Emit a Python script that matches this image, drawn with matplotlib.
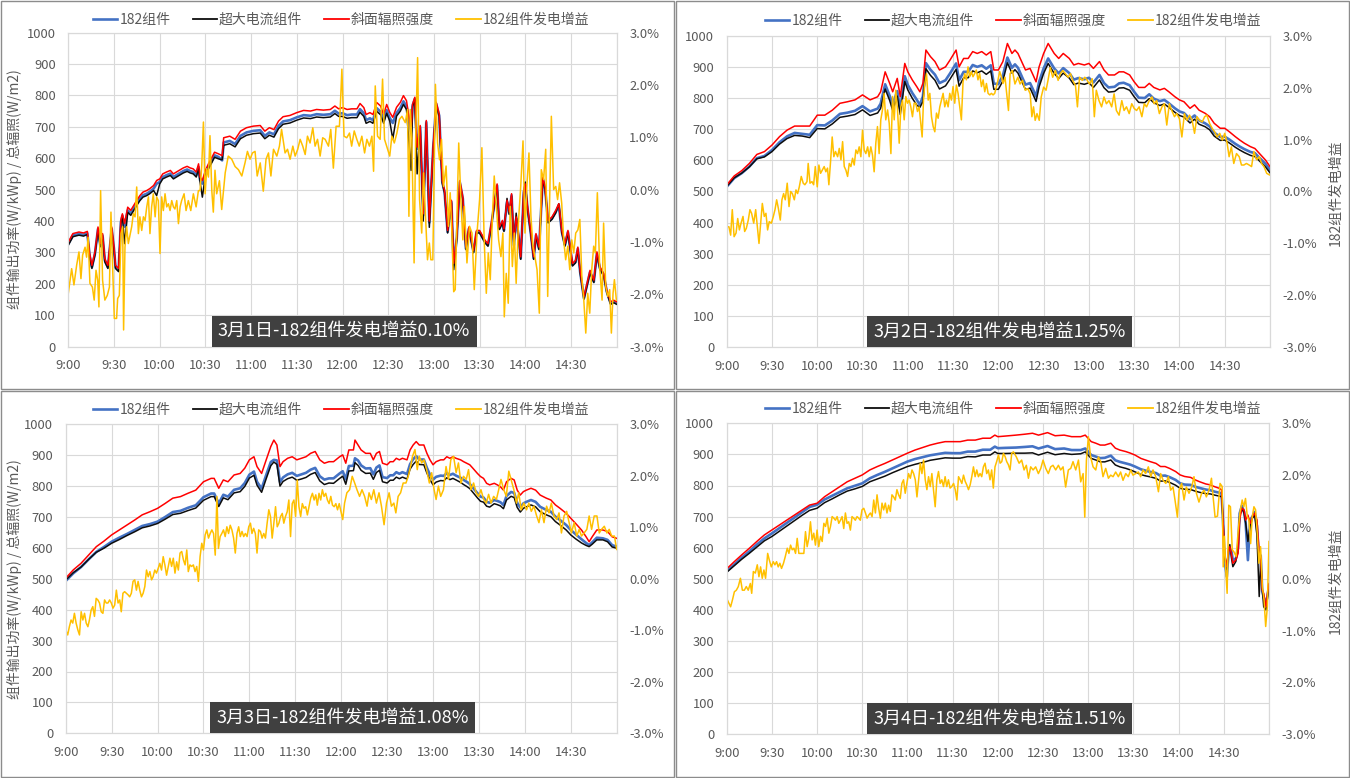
import matplotlib
matplotlib.use('Agg')
import matplotlib.pyplot as plt
from matplotlib.patches import Rectangle
from matplotlib.lines import Line2D

plt.rcParams['font.family'] = ['Noto Sans CJK SC', 'DejaVu Sans']

# ---- data: minutes after 9:00 ----
tick_labels = ['9:00', '9:30', '10:00', '10:30', '11:00', '11:30', '12:00',
               '12:30', '13:00', '13:30', '14:00', '14:30', '']
titles = ['3月1日-182组件发电增益0.10%', '3月2日-182组件发电增益1.25%',
          '3月3日-182组件发电增益1.08%', '3月4日-182组件发电增益1.51%']
series_names = ['182组件', '超大电流组件', '斜面辐照强度', '182组件发电增益']

# 3月1日
minutes_1 = [0,3,7,10,12.5,14,15.5,17.5,19.5,21,22.5,24,26,28.5,30,31,33,34.5,35.5,37,39,41,43,45,47,49,51.5,53.5,56,58,
             60,62,64.5,67,69,71,73.5,75.5,78,80,82,84,85.5,86.5,88,90,92,94,96,98.5,101,102,106,109.5,113,117,121.5,126,129,132,
             135,138,141,145.5,150,154.5,159,163,167.5,172,175,177.5,180,183,186,189.5,191.5,194,195.5,198,200,202.5,205,207,209,211,213,215.5,218,220,
             222,225,226,227.5,229,231,233,235,237,239.5,241.5,243.5,245.5,247,249,251.5,253,255,257,259,261,263,266,268,270,273.5,275.5,278,280,281.5,
             283,285,286,288,289.5,291,292.5,294,295.5,297,299,300,301.5,303.5,305.5,307,309,311.5,313,315,317.5,320,322,324,326,328,329.5,331,333,334.5,
             336,338.5,340.5,342.5,345,347,349,351.5,353.5,356,358,360]
irradiance_1 = [333,360,365,362,367,296,259,302,381,328,360,280,259,381,317,259,249,402,423,392,444,434,450,466,481,492,497,503,513,529,
                534,550,556,561,550,556,563,569,574,569,566,556,582,540,529,561,582,600,619,614,608,665,670,660,686,697,702,704,686,697,
                691,718,732,736,745,752,750,755,753,755,766,757,761,755,757,757,774,761,739,745,739,777,766,739,771,746,730,762,778,799,
                783,688,772,794,635,704,423,720,400,635,778,740,529,497,370,466,265,349,529,476,317,381,307,370,370,339,328,402,471,518,
                381,402,375,466,429,487,328,413,360,286,497,518,444,370,286,360,317,540,508,402,413,434,455,370,328,370,317,265,275,317,
                243,159,201,243,212,302,254,233,180,143,148,143]
module182_1 = [327,354,359,356,361,290,253,296,375,322,354,274,253,375,311,253,243,396,417,382,434,424,440,456,471,482,487,493,503,519,
               524,540,546,551,540,546,553,559,564,559,556,546,572,530,519,551,572,590,609,604,593,650,655,645,671,682,687,689,671,682,
               676,703,717,721,730,737,735,740,738,740,751,742,743,737,739,739,756,743,721,727,721,759,748,721,753,728,712,744,760,781,
               765,683,767,789,630,699,418,715,395,630,773,735,524,492,365,461,260,344,524,471,312,376,302,365,365,334,323,397,466,513,
               376,397,370,461,424,482,323,408,355,281,492,513,439,365,281,355,312,535,503,397,408,429,450,365,323,365,312,260,270,312,
               238,154,196,238,207,297,249,228,175,138,143,138]
highcurrent_1 = [323,350,355,352,357,286,249,292,371,318,350,270,249,371,307,249,239,392,413,328,428,418,434,450,465,476,481,487,497,481,
                 518,534,540,545,534,540,547,553,558,553,550,540,566,524,476,545,566,584,603,598,595,641,646,636,662,673,678,680,662,673,
                 667,694,708,712,721,728,726,731,729,731,742,733,733,727,729,729,746,733,711,717,711,749,738,711,743,718,661,734,750,771,
                 755,561,764,786,550,696,400,712,380,627,770,732,521,489,362,458,245,341,521,468,309,373,299,362,362,331,320,394,463,510,
                 373,394,367,472,421,479,320,425,352,278,492,524,436,362,278,352,309,532,500,394,405,426,455,362,320,362,309,257,267,309,
                 235,151,193,235,204,294,246,225,172,135,140,135]
gain_1 = [(0,-1.98),(2.2,-1.51),(3.7,-1.82),(5.5,-1.44),(7,-1.19),(8.3,-1.70),(9.4,-1.25),(11,-1.10),(12,-1.29),(13,-0.91),
          (14.2,-1.79),(15.8,-1.86),(17,-2.11),(18.2,-1.54),(19.3,-1.73),(20.1,-2.24),(21.2,-0.02),(22.5,-1.73),(24,-2.11),(25.6,-2.02),
          (27,-1.86),(28,-0.43),(29.1,-1.48),(30.2,-2.46),(31.7,-2.46),(32.4,-2.08),(33.5,-2.02),(34.6,-0.84),(35.7,-0.71),(36.3,-2.68),
          (37.2,-1.10),(38.3,-0.71),(39.4,-1.03),(40.5,-0.87),(41.6,-0.71),(42.7,-0.46),(43.8,-0.52),(44.9,0.05),(46,-0.84),(47,-0.52),
          (48.2,-0.78),(49.3,-0.52),(50.4,-0.59),(51.5,-0.33),(52.6,-0.14),(53.6,-0.84),(54.7,-0.33),(55.8,-0.08),(57,-0.52),(58,-0.14),
          (59.1,-0.21),(60.2,-1.22),(61.3,-0.14),(62.4,-0.40),(63.5,-0.08),(64.6,-0.33),(65.7,-0.27),(66.8,-0.40),(67.9,-0.21),(69,-0.33),
          (70,-0.37),(71.2,-0.21),(72.3,-0.65),(73.4,-0.33),(74.4,-0.21),(76,-0.08),(77.3,-0.40),(78.8,-0.21),(80.4,-0.40),(82.1,-0.08),
          (83.9,-0.33),(85.4,-0.02),(86.5,-0.02),(87.6,0.46),(88.7,1.29),(89.8,-0.08),(90.9,0.40),(92,0.24),(93,1.03),(94.2,-0.02),
          (95.2,-0.43),(96.3,0.37),(97.4,-0.08),(99.2,0.17),(100.7,-0.38),(103,0.32),(105,0.64),(107.3,0.58),(109.5,0.44),(111.7,0.38),
          (113.9,0.26),(116,0.51),(117.6,0.73),(119.3,0.58),(120.9,0.70),(122.6,0.73),(124,0.26),(126,0.51),(128,-0.03),(129.8,0.58),
          (131.4,0.70),(133,0.26),(134.7,0.77),(136.9,0.64),(138.6,0.83),(140,1.15),(142.3,0.70),(143.9,0.77),(145.6,0.58),(147.4,0.83),
          (148.9,0.64),(150.6,0.77),(152.2,0.96),(153.9,0.83),(155.5,0.67),(157,1.02),(158.7,0.89),(160.5,1.18),(162,0.83),(163.6,0.96),
          (165.3,0.64),(167,0.99),(168.6,0.96),(170.8,0.83),(172.3,1.15),(174,0.41),(175.8,1.21),(178,1.21),(179.6,2.30),(181,1.02),
          (182.8,0.99),(184.6,1.08),(186,0.83),(187.7,1.12),(189.4,0.96),(191,0.83),(192.7,1.02),(194.5,0.70),(196,0.96),(197.7,0.83),
          (199.3,1.02),(200.4,0.35),(201.5,1.98),(203,1.02),(204.7,0.96),(206.3,2.11),(207.6,0.96),(209,0.83),(211,0.64),(212.4,1.02),
          (214,0.89),(215.7,1.08),(217.4,1.34),(219,1.40),(221.2,1.28),(222.7,1.53),(223.6,-0.51),(224.5,1.53),(225.5,0.96),(227,-1.40),
          (228,0.96),(229.3,2.52),(230.6,-0.19),(232,-0.83),(233.2,0.32),(234.3,-0.38),(235.8,-1.34),(237,-1.02),(238,-1.34),(239.3,-1.34),
          (241,2.01),(242.4,0.89),(243.7,0.57),(245,0.96),(246.3,0.06),(248,0.45),(249.6,-0.70),(250.7,-0.06),(251.8,-0.83),(253,-1.95),
          (254,-1.91),(255,-0.70),(256.3,0.89),(257.7,-0.19),(259,-0.96),(260,-0.32),(261.7,-1.40),(263.4,-0.70),(265,-0.83),(266.5,-1.91),
          (268.3,-0.83),(270,-0.19),(271.5,0.80),(273,-0.96),(274.4,-1.98),(275.7,-1.21),(277,-1.72),(278.5,-0.45),(279.6,0.26),(281,-0.32),
          (282.5,-0.96),(284,-1.28),(285.3,-0.83),(286.2,-2.43),(287.5,-1.60),(288.8,-2.17),(290.1,-0.32),(291.5,-1.47),(292.8,-0.83),(294,-1.79),
          (295.6,-0.57),(297,0.06),(298.5,0.93),(299.8,-0.83),(301,0.06),(302.4,0.70),(303.7,-0.51),(305,-1.08),(306.3,-1.28),(307.7,-1.53),
          (309.2,-2.36),(310.5,0.38),(312,0.19),(313.4,0.77),(314.7,-2.04),(316,-0.13),(317.1,1.40),(318.6,0.0),(320,0.06),(321.2,-0.19),
          (322.5,0.13),(323.9,-0.26),(325.2,-0.96),(326.5,-1.34),(327.9,-1.08),(329.2,-1.53),(330.5,-0.96),(331.8,-1.21),(333.1,-0.83),(334.5,-0.77),
          (335.8,-0.57),(337.1,-1.66),(338.4,-2.11),(339.7,-2.74),(341,-1.98),(342.3,-2.36),(343.6,-1.53),(344.9,-1.08),(346,-1.21),(347.3,-0.06),
          (348.8,-1.47),(350.4,-2.11),(351.4,-0.64),(352.8,-1.85),(354.1,-2.04),(355.4,-1.91),(356.5,-2.74),(357.6,-1.98),(358.5,-1.72),(359.8,-2.11)]

# 3月2日
minutes_2 = [0,5,10,15,20,25,30,35,40,45,50,55,60,65,70,75,80,85,90,95,100,102,105,108,110,113,115,118,120,123,
             126,128,130,132,135,138,141,145,148,152,154,157,160,163,166,169,172,175,177,180,183,186,189,191,193,196,198,201,203,205,
             207,210,213,217,220,223,227,230,233,237,240,243,247,250,253,257,260,263,267,270,273,277,280,283,287,290,293,297,300,303,
             307,310,313,317,320,323,327,330,333,337,340,343,347,350,353,357,360]
irradiance_2 = [521,550,567,590,619,628,649,676,697,710,710,710,745,745,761,783,788,794,810,794,804,820,884,847,820,863,804,911,884,858,
                836,820,847,954,933,917,890,900,922,954,900,927,927,949,943,949,938,949,890,890,917,975,943,954,943,911,890,895,874,852,
                900,943,975,943,927,943,927,906,911,906,911,895,917,890,874,874,884,884,874,852,834,834,847,834,826,831,820,804,794,788,
                767,778,761,751,740,719,703,703,692,676,665,655,644,638,622,601,580]
module182_2 = [515,543,559,580,607,614,633,658,677,688,685,682,713,712,728,749,753,759,774,757,766,782,844,807,780,822,763,870,842,816,
               794,778,805,912,891,875,848,857,879,911,857,884,884,906,900,905,894,905,846,845,872,930,897,908,897,864,843,848,827,805,
               852,895,927,895,879,896,880,859,864,860,865,850,874,848,834,836,847,849,841,820,801,800,812,798,790,794,783,767,757,752,
               732,744,728,719,709,689,675,676,667,653,644,636,627,623,608,589,569]
highcurrent_2 = [516,544,559,579,605,611,628,652,670,680,678,673,702,701,717,738,742,747,762,744,752,767,829,792,760,806,747,853,826,799,
                 777,770,788,894,873,857,829,839,861,892,838,865,865,887,881,887,876,887,828,828,855,913,880,891,880,848,827,832,811,789,
                 836,879,911,879,863,880,864,843,848,844,849,834,858,833,819,821,832,833,825,804,786,785,798,785,776,781,770,754,744,739,
                 720,732,716,708,698,678,664,665,656,642,633,625,616,612,598,579,560]
gain_2 = [(0,-0.68),(1.5,-0.68),(2.6,-0.84),(3.7,-0.35),(4.9,-0.87),(6.2,-0.80),(7.3,-0.52),(8.4,-0.74),(9.5,-0.61),(10.8,-0.48),
          (11.9,-0.77),(13,-0.71),(14.3,-0.55),(15.4,-0.35),(16.5,-0.42),(17.9,-0.61),(19.2,-0.35),(20.3,-0.68),(21.4,-1.00),(22.5,-0.61),
          (23.6,-0.23),(24.9,-0.48),(26,-0.42),(27.1,-0.74),(28.2,-0.58),(29.6,-0.61),(30.9,-0.48),(32,-0.35),(33.1,-0.16),(34.2,-0.32),
          (35.5,-0.55),(36.6,-0.16),(37.7,-0.04),(38.8,-0.16),(40.1,0.16),(41.3,-0.29),(42.4,0.0),(43.5,-0.04),(44.8,-0.16),(45.9,0.03),
          (47,-0.04),(48.1,0.09),(49.4,0.29),(50.7,0.16),(51.8,0.13),(53.2,0.19),(54,0.54),(55.2,0.16),(56.5,0.19),(57.6,0.13),
          (58.7,0.48),(60,0.09),(61.1,0.51),(62.2,0.35),(63.3,0.41),(64.6,0.48),(65.7,0.38),(66.8,0.45),(67.7,0.13),(68.8,0.57),
          (69.9,1.05),(71,0.67),(72.1,0.77),(73.5,0.67),(74.6,0.83),(75.7,0.61),(76.8,0.96),(77.9,0.48),(79,0.41),(80.1,0.29),
          (81.2,0.54),(82.3,0.48),(83.4,0.64),(84.5,0.51),(85.6,0.80),(86.7,0.73),(87.8,0.86),(88.9,0.67),(90,1.18),(91.1,0.80),
          (92.2,0.73),(93.4,0.86),(94.4,0.67),(95.5,0.86),(96.6,0.70),(97.7,0.38),(98.8,0.93),(99.9,1.25),(101,0.73),(102.1,1.38),
          (103.2,1.57),(104.3,1.89),(105.4,1.38),(106.6,1.57),(107.7,1.31),(108.8,0.73),(109.9,1.83),(111,1.38),(112,1.95),(113.2,1.57),
          (114.3,0.93),(115.4,1.63),(116.5,1.76),(117.6,1.38),(118.7,1.83),(119.8,1.70),(120.9,1.76),(122,1.63),(123.1,1.44),(124.2,1.70),
          (125.3,1.70),(126.4,1.54),(127.5,1.63),(128.6,1.31),(129.5,1.05),(130.4,1.76),(131.3,2.08),(132.4,2.27),(133.5,1.76),(134.6,1.89),
          (135.7,1.44),(136.8,1.25),(137.9,1.15),(139,1.51),(140.1,1.41),(141.2,1.63),(142.3,1.76),(143.4,1.89),(144.5,1.63),(145.6,1.76),
          (146.7,1.63),(147.8,1.89),(148.9,1.76),(150,2.02),(151.1,1.70),(152.2,2.05),(153.3,1.89),(154.4,1.63),(155.5,1.38),(156.6,2.11),
          (157.7,2.27),(158.8,2.15),(159.9,2.40),(161,2.21),(162.1,2.31),(163.2,2.21),(164.3,2.27),(165.4,2.34),(166.5,2.15),(167.6,2.27),
          (168.8,2.02),(169.9,2.15),(171,1.92),(172.1,2.08),(173.2,1.89),(174.3,1.86),(175.4,1.89),(176.5,1.86),(177.6,1.89),(178.7,2.02),
          (179.8,2.15),(180.9,2.31),(182,2.21),(183.1,2.08),(184.4,2.20),(186.7,1.56),(187.8,2.27),(189.3,2.33),(191,2.07),(192.9,2.20),
          (194.4,2.07),(196,2.14),(197.8,1.95),(199.6,1.98),(201.1,1.88),(202.2,1.44),(203.3,1.63),(204.4,1.37),(205.6,1.50),(207.1,1.37),
          (208.4,1.82),(210,2.01),(211.6,1.95),(212.9,2.14),(214.4,2.39),(216,2.20),(217.8,2.33),(219.6,2.14),(221.1,2.27),(222.7,2.33),
          (224.4,2.27),(226.2,2.20),(227.8,2.27),(229.3,2.14),(231.1,2.04),(232.4,1.63),(233.8,2.20),(235.6,2.14),(237.3,2.20),(238.9,2.14),
          (240.4,2.07),(242.2,2.17),(243.6,1.44),(244.9,1.95),(246.7,1.75),(248.4,1.63),(250,1.82),(251.6,1.69),(253.3,1.75),(255.1,1.63),
          (256.7,1.88),(258.2,1.56),(260,1.47),(261.8,1.75),(263.3,1.56),(264.9,1.63),(266.7,1.50),(268.4,1.69),(270,1.60),(271.6,1.56),
          (273.3,1.63),(275.1,1.44),(276.7,1.69),(278.2,1.63),(280,1.75),(281.8,1.82),(283.3,1.69),(284.9,1.75),(286.7,1.50),(288.4,1.63),
          (290,1.69),(291.6,1.28),(293.3,1.69),(294.9,1.56),(296.7,1.44),(298.2,1.50),(300,1.40),(301.6,1.05),(303.3,1.50),(304.9,1.37),
          (306.7,1.47),(308.4,1.37),(310,1.12),(311.6,1.44),(313.3,1.37),(315.1,1.34),(316.7,1.44),(318.2,1.47),(320,1.31),(321.8,1.21),
          (323.3,1.15),(324.9,1.05),(326.7,1.12),(328.4,0.99),(330,1.12),(331.6,0.93),(332.9,0.67),(334.4,0.86),(336,0.54),(337.8,0.73),
          (339.6,0.67),(341.1,0.51),(342.7,0.51),(344.4,0.54),(346.2,0.51),(347.8,0.48),(349.3,0.77),(351.1,0.61),(352.9,0.67),(354.4,0.54),
          (356,0.48),(357.8,0.35),(359.6,0.32)]

# 3月3日
minutes_3 = [0,5,10,15,20,25,30,35,40,45,50,55,60,65,70,75,80,85,90,95,97,100,103,106,110,114,117,120,123,125,
             128,131,134,136,138,140,142,145,148,151,154,157,160,163,166,169,172,175,179,181,183,185,188,189,191,193,196,199,201,203,
             205,207,210,212,214,216,218,220,223,225,227,229,231,234,236,238,240,242,245,247,249,251,253,255,258,260,262,264,266,269,
             271,273,275,277,280,282,284,286,288,291,293,295,297,299,301,304,307,310,314,317,320,323,327,330,333,337,340,342,344,347,
             351,354,357,360]
irradiance_3 = [502,529,550,577,604,622,642,658,674,690,707,717,728,744,761,766,777,787,814,825,825,793,820,814,836,841,858,885,895,863,
                841,885,928,949,933,863,879,890,895,885,890,895,906,912,885,874,879,879,895,901,874,917,917,949,933,917,906,906,885,906,
                912,874,869,879,879,890,885,890,885,917,933,944,933,933,906,885,869,879,885,885,895,890,895,890,885,879,874,869,858,841,
                831,825,809,804,809,804,798,787,814,825,820,787,771,782,787,793,787,771,761,755,739,728,712,696,680,658,636,620,636,658,
                658,653,636,631]
module182_3 = [493,518,538,563,587,603,620,633,645,658,671,677,685,700,716,720,730,738,764,776,776,744,772,766,788,793,810,837,847,814,
               792,836,878,885,883,813,828,838,843,833,838,843,853,859,832,821,825,825,841,848,822,865,866,890,883,867,857,858,838,860,
               867,829,826,835,835,845,840,845,839,871,887,897,886,886,859,837,821,830,834,833,842,836,840,834,827,820,814,807,795,777,
               766,763,749,746,755,752,748,739,768,781,778,746,731,744,749,755,749,733,723,717,701,690,674,658,645,628,616,609,618,633,
               631,626,609,604]
highcurrent_3 = [496,520,538,563,586,599,615,627,640,652,665,671,679,693,708,712,721,729,754,766,766,734,762,756,778,782,799,826,835,803,
                 780,824,866,878,870,800,815,824,829,819,823,828,838,844,817,805,810,809,825,832,806,849,850,876,867,851,841,842,822,844,
                 851,814,810,819,819,829,824,829,823,855,870,881,870,869,842,821,804,813,818,817,827,821,825,820,812,805,799,792,780,762,
                 751,748,735,732,743,740,736,727,755,767,763,731,716,728,733,739,733,717,707,701,685,674,658,642,630,616,608,604,612,626,
                 626,620,603,599]
gain_3 = [(0,-0.99),(1.3,-1.09),(2.4,-0.93),(3.5,-0.80),(4.6,-0.86),(5.7,-0.67),(6.8,-0.86),(7.9,-0.99),(9,-1.09),(10.1,-0.64),
          (11.2,-0.80),(12.3,-0.67),(13.4,-0.86),(14.5,-0.93),(15.5,-0.80),(16.6,-0.61),(17.7,-0.54),(18.8,-0.73),(19.9,-0.38),(21,-0.41),
          (22.1,-0.47),(23.2,-0.64),(24.3,-0.67),(25.4,-0.41),(26.5,-0.47),(27.6,-0.47),(28.7,-0.41),(29.8,-0.47),(30.9,-0.57),(32,-0.51),
          (33.1,-0.22),(34.2,-0.47),(35.3,-0.41),(36.3,-0.64),(37.4,-0.28),(38.5,-0.25),(39.6,-0.28),(40.7,-0.31),(41.8,-0.35),(42.9,-0.28),
          (44,-0.05),(45.1,-0.02),(46.2,-0.22),(47.3,-0.05),(48.4,-0.22),(49.5,-0.35),(50.6,-0.28),(51.7,-0.15),(52.8,0.17),(53.9,0.04),
          (55,0.14),(56.1,-0.02),(57.1,0.04),(58.2,0.17),(59.3,0.11),(60.4,0.20),(61.5,0.30),(62.6,0.17),(63.7,0.43),(64.8,0.27),
          (65.9,0.07),(67,0.24),(68.1,0.40),(69.2,0.24),(70.3,0.40),(71.4,0.11),(72.5,0.33),(73.6,0.17),(74.7,0.50),(75.8,0.53),
          (76.9,0.37),(78,0.27),(79.1,0.56),(80.1,0.14),(81.2,0.27),(82.3,0.24),(83.4,0.27),(84.5,0.14),(85.6,0.24),(86.7,-0.05),
          (87.8,0.43),(88.9,0.69),(90,0.56),(91.1,0.85),(92.2,0.95),(93.3,0.79),(94.4,0.88),(95.5,0.95),(96.6,0.88),(97.7,0.46),
          (98.8,1.60),(99.8,0.59),(100.9,0.82),(102,0.88),(103.1,0.95),(104.2,0.82),(105.3,1.01),(106.4,0.88),(107.5,1.04),(108.6,0.95),
          (109.7,0.79),(110.8,0.50),(111.9,0.88),(113,1.01),(114.1,0.82),(115.2,0.92),(116.3,0.82),(117.4,0.88),(118.5,0.82),(119.6,1.01),
          (120.7,1.08),(121.7,0.88),(122.8,0.98),(123.9,0.88),(125,0.50),(126.1,0.95),(127.2,0.92),(128.3,0.79),(129.4,0.88),(130.5,0.79),
          (131.6,1.08),(132.7,1.34),(133.8,1.21),(134.9,0.79),(136,1.08),(137.1,1.40),(138.2,1.01),(139.3,1.08),(140.4,1.21),(141.5,1.27),
          (142.5,1.08),(143.6,1.21),(144.7,1.30),(145.8,1.53),(146.9,0.82),(148,1.46),(149.1,1.53),(150.2,1.21),(151.3,1.92),(152.4,1.40),
          (153.5,1.21),(154.6,1.46),(155.7,1.37),(156.8,1.40),(157.9,1.24),(159,1.40),(160.1,1.57),(161.2,1.66),(162.3,1.53),(163.4,1.63),
          (164.4,1.43),(165.5,1.66),(166.6,1.53),(167.7,1.73),(168.8,1.60),(169.9,1.66),(171,1.53),(172.1,1.46),(173.2,1.60),(174.3,1.43),
          (175.4,1.40),(176.5,1.46),(177.6,1.34),(178.7,1.46),(181,1.15),(182.2,1.47),(183.7,1.67),(185.5,1.73),(187.2,1.99),(188.8,1.86),
          (190.3,1.73),(192,1.60),(193.6,1.73),(195.3,1.60),(196.9,1.41),(198.2,1.67),(199.7,1.54),(201.3,1.73),(203,1.47),(204.7,1.67),
          (206.3,1.41),(208,1.05),(209.6,1.47),(211.3,1.67),(212.8,1.41),(214.4,1.47),(215.7,1.28),(217.2,1.60),(218.8,1.67),(220.5,1.86),
          (222.3,1.86),(223.8,1.99),(225.3,2.18),(226.6,2.38),(228.2,2.51),(229.7,2.12),(231,2.38),(232.6,2.25),(234.1,2.31),(235.8,2.12),
          (237.6,1.86),(239.1,2.06),(240.7,1.73),(242,1.54),(243.5,1.80),(245,1.60),(246.8,1.73),(248.5,2.18),(250.1,1.93),(251.6,2.31),
          (253.4,2.38),(255.1,2.06),(256.6,2.25),(258.2,1.86),(259.9,1.99),(261.7,1.93),(263.2,2.12),(264.7,1.73),(266.5,1.86),(268.2,1.67),
          (269.8,1.60),(271.3,1.73),(273.1,1.54),(274.8,1.47),(276.3,1.64),(277.9,1.47),(279.6,1.60),(281.4,1.54),(282.9,1.73),(284.4,1.93),
          (286.2,1.73),(287.9,1.60),(289.5,2.09),(291,1.93),(292.8,1.73),(294.5,1.47),(296,1.67),(297.6,1.34),(299.3,1.47),(301.1,1.34),
          (302.6,1.47),(304.2,1.31),(305.9,1.41),(307.7,1.22),(309.2,1.09),(310.8,1.34),(312.5,1.09),(314.2,1.41),(315.8,1.28),(317.3,1.47),
          (319,1.22),(320.8,1.15),(322.3,1.28),(323.9,0.89),(325.6,1.22),(327.3,1.31),(328.9,1.09),(330.4,0.89),(332.2,1.09),(333.9,0.83),
          (335.5,0.96),(337,0.83),(338.7,0.89),(340.5,0.96),(342,1.22),(343.6,0.96),(345.3,1.22),(347.1,1.22),(348.6,0.89),(350.1,0.96),
          (351.9,1.02),(353.6,0.89),(355.1,0.96),(356.7,0.83),(358.5,0.83),(360,0.57)]

# 3月4日
minutes_4 = [0,5,10,15,20,25,30,35,40,45,50,55,60,65,70,75,80,85,90,95,100,105,110,115,120,125,130,135,140,145,
             150,155,160,165,170,175,178,180,185,192,198,203,207,213,218,224,229,235,238,242,245,248,251,255,258,261,265,268,271,275,
             278,281,285,288,291,294,298,301,304,308,311,314,318,321,324,327,328.5,329.5,330.5,332,333,334,335,336,338,339.5,340.5,342,
             343.5,344.5,346,347.5,349,350.5,352,353.5,354.5,355.5,356.5,358,359,360]
irradiance_4 = [532,555,577,598,620,641,657,673,689,705,721,737,743,764,780,796,812,823,834,850,861,871,882,893,904,914,922,930,936,941,
                941,941,946,946,952,952,962,957,959,962,965,968,962,970,960,962,957,957,962,941,936,930,930,936,920,914,909,904,898,887,
                882,877,871,861,861,855,845,834,829,826,818,812,805,802,796,791,786,689,582,539,582,603,582,550,561,582,689,727,
                721,689,705,678,700,711,689,582,571,464,453,410,453,485]
module182_4 = [524,546,568,588,610,630,646,663,680,697,714,731,738,755,767,779,791,799,807,823,834,844,855,866,877,885,891,897,901,905,
               904,904,909,909,915,915,925,920,921,922,924,926,919,927,917,919,914,914,919,898,893,888,889,896,881,876,871,867,861,852,
               848,844,840,831,832,827,818,807,803,802,796,792,787,785,780,777,774,684,560,507,575,598,590,560,565,600,710,735,
               715,680,560,690,700,715,670,560,575,460,440,420,445,480]
highcurrent_4 = [521,542,563,582,602,622,636,653,670,687,704,720,727,745,757,770,782,789,797,812,821,830,841,851,861,868,874,881,885,889,
                 888,888,893,892,898,898,908,903,903,904,904,905,898,907,899,903,900,902,908,887,882,876,876,882,866,860,855,850,844,835,
                 831,828,823,814,815,810,801,791,788,787,782,778,774,773,769,766,764,690,575,530,590,610,570,539,556,600,700,727,
                 710,680,620,670,695,705,640,443,560,470,410,400,440,470]
gain_4 = [(0,-0.38),(2.6,-0.54),(3.8,-0.41),(5.1,-0.25),(6.4,-0.22),(7.7,-0.15),(9.1,0.01),(10.4,-0.22),(11.7,-0.22),(13,-0.15),
          (14.3,-0.22),(15.7,-0.09),(16.6,-0.28),(17.7,0.14),(19,0.11),(20.3,0.27),(21.4,0.04),(22.5,0.23),(23.6,0.01),(24.7,0.17),
          (25.8,0.01),(27.2,0.49),(28.3,0.36),(29.6,0.23),(30.9,0.33),(32,0.27),(33.1,0.33),(34.2,0.23),(35.3,0.30),(36.4,0.20),
          (37.7,0.30),(38.9,0.43),(40.2,0.59),(41.3,0.49),(42.4,0.65),(43.5,0.56),(44.6,0.59),(45.7,0.49),(46.8,0.78),(47.9,0.49),
          (49,0.49),(50.1,0.49),(51.2,0.49),(52.3,0.91),(53.4,0.62),(54.5,0.78),(55.6,1.10),(56.7,0.75),(57.8,0.88),(58.9,0.65),
          (60,0.94),(61.1,0.62),(62.3,0.82),(63.4,0.72),(64.5,1.07),(65.6,1.01),(66.7,1.17),(67.8,0.88),(68.9,1.01),(70,1.20),
          (71.1,1.17),(72.2,1.13),(73.3,1.20),(74.4,1.07),(75.5,1.13),(76.6,1.20),(77.7,0.97),(78.8,1.27),(79.9,1.07),(81,1.10),
          (82.1,0.94),(83.2,1.20),(84.3,1.17),(85.4,1.13),(86.5,1.20),(87.6,1.17),(88.7,1.13),(89.8,1.33),(91,1.36),(92.1,1.27),
          (93.2,1.17),(94.3,1.23),(95.4,1.27),(96.5,1.20),(97.6,1.52),(98.7,1.27),(99.8,1.62),(100.9,1.36),(102,1.17),(103.1,1.46),
          (104.2,1.33),(105.3,1.46),(106.4,1.27),(107.5,1.42),(108.6,1.30),(109.7,1.62),(110.8,1.58),(111.9,1.52),(113,1.72),(114.1,1.62),
          (115.2,1.55),(116.3,1.84),(117.4,1.91),(118.5,1.65),(119.6,1.84),(120.7,2.03),(121.9,1.94),(123,2.10),(124.1,2.03),(125.2,1.91),
          (126.3,1.58),(127.4,1.91),(128.5,2.23),(129.6,2.03),(130.7,2.29),(131.8,1.91),(132.9,1.72),(134,1.97),(135.1,1.78),(136.2,2.03),
          (137.3,1.72),(138.4,1.39),(139.5,1.91),(140.6,2.07),(141.7,1.84),(142.8,1.91),(143.9,1.78),(145,1.97),(146.1,1.78),(147.2,1.91),
          (148.3,1.75),(149.4,1.78),(150.6,1.84),(151.7,1.72),(152.8,1.52),(153.9,1.97),(155,1.91),(156.1,1.84),(157.2,2.00),(158.3,1.88),
          (159.4,1.81),(160.5,1.72),(161.6,1.81),(162.7,1.97),(163.8,2.16),(164.9,1.97),(166,2.10),(167.1,1.97),(168.2,2.03),(169.3,1.97),
          (170.4,2.16),(171.5,2.23),(172.6,2.03),(173.7,2.10),(174.8,1.91),(175.9,2.10),(177,1.75),(178.1,2.16),(179.2,2.26),(180.4,2.39),
          (181.5,2.23),(182.6,2.26),(183.7,2.42),(184.8,2.36),(185.9,2.26),(187,2.20),(188.1,2.10),(189.2,2.42),(190.3,2.45),(192.3,2.35),
          (194.1,2.23),(195.8,2.29),(197.4,2.10),(198.9,2.19),(200.3,1.94),(201.8,2.16),(203.4,2.10),(205.1,2.16),(206.9,2.03),(208.5,2.13),
          (210,2.29),(211.8,2.13),(213.5,2.03),(215.1,2.16),(216.6,2.19),(218.4,2.10),(220.2,2.19),(221.7,2.10),(223.3,2.16),(225,1.77),
          (226.8,2.10),(228.4,2.13),(229.9,2.26),(231.7,2.10),(233.5,2.29),(235,1.87),(236.6,2.03),(237.7,1.19),(238.8,2.29),(240.1,2.74),
          (241.6,2.35),(243.2,2.16),(245,2.10),(246.7,2.35),(248.3,2.26),(249.8,1.97),(251.6,2.13),(253.4,1.94),(254.9,2.00),(256.5,1.97),
          (258.2,2.06),(260,1.97),(261.5,2.06),(263.1,1.90),(264.9,2.03),(266.6,1.97),(268.2,2.10),(269.7,2.00),(271.5,2.03),(273.3,2.06),
          (274.8,1.97),(276.4,2.10),(278.1,2.03),(279.9,2.16),(281.5,1.97),(283,2.10),(284.8,1.97),(286.6,1.68),(288.1,2.03),(289.7,1.90),
          (291.5,1.84),(293.2,1.97),(294.7,1.71),(296.3,1.77),(297.6,1.52),(299.2,1.19),(300.3,1.71),(302,1.84),(303.6,1.52),(305.1,1.77),
          (306.9,1.65),(308.7,1.77),(310.2,1.97),(311.8,1.65),(313.5,1.48),(315.3,1.65),(316.9,1.71),(318.4,1.58),(320.2,1.71),(321.8,1.94),
          (322.9,1.58),(324.2,1.19),(325.8,1.21),(327.5,1.84),(328.9,1.78),(329.6,0.23),(330.4,0.82),(331.3,0.17),(332.2,-0.28),(333.3,1.42),
          (334.4,1.39),(335.6,0.56),(336.7,0.52),(338.2,0.43),(339.6,0.94),(340.7,1.27),(342.2,1.52),(343.3,1.39),(344.4,1.55),(345.6,1.20),
          (346.7,1.13),(347.8,0.68),(348.9,1.20),(350,1.39),(351.1,1.33),(352.2,0.88),(353.3,0.30),(354.4,0.62),(355.6,-0.15),(356.7,-0.41),
          (357.8,-0.92),(358.9,-0.54),(360,0.72)]

# ---- figure ----
W, H = 1350, 778
fig = plt.figure(figsize=(13.5, 7.78), dpi=100)
fig.patch.set_facecolor('white')

GRAY = '#595959'
GRID = '#d9d9d9'
C_BLUE, C_BLACK, C_RED, C_GOLD = '#4472C4', '#0d0d0d', '#FF0000', '#FFC000'

# chart area frames (pixels: left, top, right, bottom)
for (l, t, r, b) in [(1, 1, 674, 389), (676, 1, 1349, 389), (1, 391, 674, 777), (676, 391, 1349, 777)]:
    fig.add_artist(Rectangle((l / W, 1 - b / H), (r - l) / W, (b - t) / H, transform=fig.transFigure,
                             fill=False, ec='#8c8c8c', lw=1.0))

plot_boxes = [(68.3, 32.5, 616.7, 346.7), (726.7, 35.7, 1270, 347.3),
              (65.7, 424.3, 616.7, 733.3), (726.7, 423.3, 1269, 734.3)]
legend_centres = [(341, 20), (1013, 21), (341, 410), (1013, 409)]

panels = [
    (minutes_1, module182_1, highcurrent_1, irradiance_1, gain_1),
    (minutes_2, module182_2, highcurrent_2, irradiance_2, gain_2),
    (minutes_3, module182_3, highcurrent_3, irradiance_3, gain_3),
    (minutes_4, module182_4, highcurrent_4, irradiance_4, gain_4),
]

for i, (mins, p182, pbig, irr, gain) in enumerate(panels):
    l, t, r, b = plot_boxes[i]
    ax = fig.add_axes([l / W, 1 - b / H, (r - l) / W, (b - t) / H])
    ax2 = ax.twinx()

    ax.plot(mins, p182, color=C_BLUE, lw=1.9, zorder=3)
    ax.plot(mins, pbig, color=C_BLACK, lw=1.1, zorder=4)
    ax.plot(mins, irr, color=C_RED, lw=1.1, zorder=5)
    gx, gy = zip(*gain)
    ax2.plot(gx, gy, color=C_GOLD, lw=1.1)

    ax.set_xlim(0, 360)
    ax.set_ylim(0, 1000)
    ax2.set_ylim(-3, 3)

    ax.set_xticks(range(0, 361, 30))
    ax.set_xticklabels(tick_labels)
    ax.set_yticks(range(0, 1001, 100))
    ax2.set_yticks([-3, -2, -1, 0, 1, 2, 3])
    ax2.set_yticklabels(['-3.0%', '-2.0%', '-1.0%', '0.0%', '1.0%', '2.0%', '3.0%'])

    ax.grid(True, color=GRID, lw=0.8)
    ax.set_axisbelow(True)
    for a in (ax, ax2):
        for s in a.spines.values():
            s.set_color(GRID)
            s.set_linewidth(0.8)
        a.tick_params(length=0, labelsize=9.3, labelcolor=GRAY)
    ax.tick_params(axis='x', pad=9)
    ax.tick_params(axis='y', pad=9)
    ax2.tick_params(axis='y', pad=9)

    if i in (0, 2):
        ax.set_ylabel('组件输出功率(W/kWp) / 总辐照(W/m2)', fontsize=10, color=GRAY)
        ax.yaxis.set_label_coords((22 - l) / (r - l), 0.5)
    else:
        ax2.set_ylabel('182组件发电增益', fontsize=10, color=GRAY)
        ax2.yaxis.set_label_coords((1329 - l) / (r - l), 0.495)

    # dark caption box sitting on the x axis
    bw = 265 / (r - l)
    bh = 31 / (b - t)
    ax2.add_patch(Rectangle((0.5 - bw / 2 + 0.003, 0), bw, bh, transform=ax2.transAxes,
                            fc='#404040', ec='none', zorder=10))
    ax2.text(0.503, bh / 2, titles[i], transform=ax2.transAxes, ha='center', va='center',
             color='white', fontsize=13, zorder=11)

    handles = [Line2D([], [], color=C_BLUE, lw=1.9), Line2D([], [], color=C_BLACK, lw=1.3),
               Line2D([], [], color=C_RED, lw=1.3), Line2D([], [], color=C_GOLD, lw=1.3)]
    cx, cy = legend_centres[i]
    leg = ax.legend(handles, series_names, loc='center', bbox_to_anchor=(cx / W, 1 - cy / H),
                    bbox_transform=fig.transFigure, ncol=4, frameon=False, fontsize=10,
                    handlelength=1.75, handletextpad=0.15, columnspacing=1.6)
    for txt in leg.get_texts():
        txt.set_color(GRAY)

fig.savefig('out.png', dpi=100)
